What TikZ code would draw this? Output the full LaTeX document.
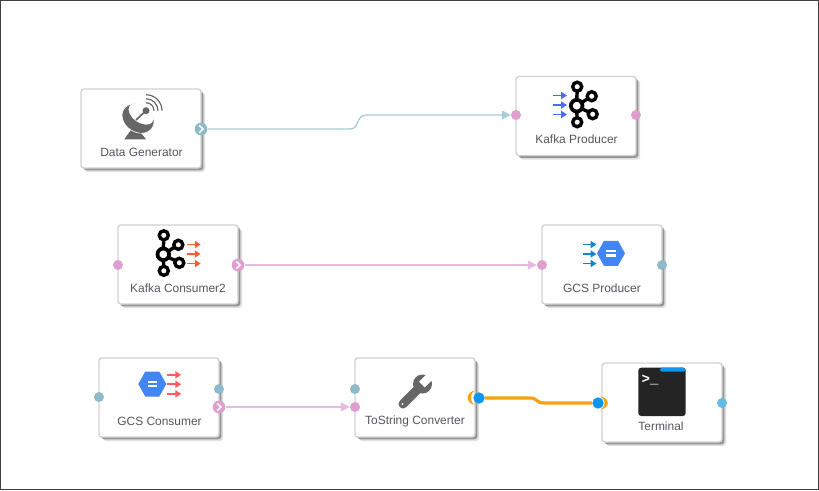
\documentclass[tikz,border=0pt]{standalone}
\usepackage{fontspec}
\setmainfont{Liberation Sans}
\newfontfamily\termfont{Liberation Mono}
\usetikzlibrary{arrows.meta,shadows,calc}

\definecolor{boxline}{HTML}{D2D2D2}
\definecolor{labelgray}{HTML}{56565E}
\definecolor{icongray}{HTML}{666666}
\definecolor{portpink}{HTML}{DD9FD0}
\definecolor{portblue}{HTML}{8FBACA}
\definecolor{linepink}{HTML}{E5BBDF}
\definecolor{lineblue}{HTML}{A9CDDA}
\definecolor{lineorange}{HTML}{F8A010}
\definecolor{dotblue}{HTML}{0E95EC}
\definecolor{skyblue}{HTML}{62BDE9}
\definecolor{gcsblue}{HTML}{4285F4}

\tikzset{
    my box/.style = {
        draw=boxline,
        line width=1.2pt,
        fill=white,
        rounded corners=2.5pt,
        minimum width=3.6cm,
        minimum height=2.37cm,
        drop shadow={shadow xshift=0.12cm, shadow yshift=-0.12cm, fill=black!50, opacity=0.25},
        drop shadow={shadow xshift=0.07cm, shadow yshift=-0.07cm, fill=black!65, opacity=0.55}},
    my label/.style = {
        font=\fontsize{10.2}{12}\selectfont,
        text=labelgray,
        inner sep=0pt},
    my port/.style = {
        circle,
        inner sep=0pt,
        minimum size=0.3cm},
    my chevron/.style = {
        my port,
        minimum size=0.38cm},
    my link/.style = {
        line width=1.1pt,
        -{Triangle[length=7.5pt,width=7.5pt]}},
    my arrow/.style = {
        line width=1.4pt,
        -{Triangle[length=5pt,width=6pt]}},
    my crescent/.style = {
        fill=lineorange},
    kafka mark/.pic = {
        \draw[line width=3.2pt] (0,0) circle (5.8);
        \draw[line width=2.9pt]
            (0.5,-19) circle (4.5) (0.5,16.5) circle (4.5)
            (15,-9.5) circle (4.5) (16,8.5) circle (4.5)
            (0.5,-15) -- (0,-6) (0.5,12.5) -- (0,6)
            (11.5,-7.5) -- (5,-3) (12.5,6.5) -- (5,3);
    },
    arrow row/.pic = {
        \foreach \rowy in {-9.5,0,9.5}
            \draw[my arrow] (-7,\rowy) -- (7,\rowy);
    },
    gcs mark/.pic = {
        \fill[gcsblue] (-14,0) -- (-7,-12.5) -- (7,-12.5) -- (14,0) -- (7,12.5) -- (-7,12.5) -- cycle;
        \fill[white] (-4.8,-3.4) rectangle (4.8,-1);
        \fill[white] (-4.8,1) rectangle (4.8,3.4);
    }
}

\newcommand{\chevronat}[1]{
    \draw[white, line width=1.3pt] ($(#1)+(-1.8,-3.6)$) -- ($(#1)+(2,0)$) -- ($(#1)+(-1.8,3.6)$);
}

\begin{document}
\begin{tikzpicture}[x=0.03cm, y=-0.03cm]
    \useasboundingbox (0,0) rectangle (819,490);
    \fill[white] (0,0) rectangle (819,490);
    \draw[black!75, line width=0.9pt] (0.5,0.5) rectangle (818.5,489.5);

    % boxes
    \node[my box] (generator) at (141,128.5) {};
    \node[my box] (producer) at (576,116) {};
    \node[my box] (consumer) at (178,264.5) {};
    \node[my box] (gcsproducer) at (602,264.5) {};
    \node[my box] (gcsconsumer) at (159,397.5) {};
    \node[my box] (converter) at (415,397.5) {};
    \node[my box] (terminal) at (662,402.5) {};

    % labels
    \node[my label] (generatorlabel) at (141.5,152) {Data Generator};
    \node[my label] (producerlabel) at (576.5,139) {Kafka Producer};
    \node[my label] (consumerlabel) at (178,288) {Kafka Consumer2};
    \node[my label] (gcsproducerlabel) at (602,288) {GCS Producer};
    \node[my label] (gcsconsumerlabel) at (159.5,421) {GCS Consumer};
    \node[my label] (converterlabel) at (415,421) {ToString Converter};
    \node[my label] (terminallabel) at (661,426) {Terminal};

    % ports
    \node[my chevron, fill=portblue] (generatorout) at (201,129) {};
    \node[my port, fill=portpink] (producerin) at (516,115) {};
    \node[my port, fill=portpink] (producerout) at (636,115) {};
    \node[my port, fill=portpink] (consumerin) at (118,265) {};
    \node[my chevron, fill=portpink] (consumerout) at (238,265) {};
    \node[my port, fill=portpink] (gcsproducerin) at (542,265) {};
    \node[my port, fill=portblue] (gcsproducerout) at (662,265) {};
    \node[my port, fill=portblue] (gcsconsumerin) at (99,397) {};
    \node[my port, fill=portblue] (gcsconsumerlog) at (219,389) {};
    \node[my chevron, fill=portpink] (gcsconsumerout) at (219,407) {};
    \node[my port, fill=portblue] (converterlog) at (355,389) {};
    \node[my port, fill=portpink] (converterin) at (355,407) {};
    \node[my port, fill=skyblue] (terminalout) at (722,403) {};
    \chevronat{generatorout}
    \chevronat{consumerout}
    \chevronat{gcsconsumerout}

    % links
    \draw[my link, lineblue] (generatorout) -- (350,129)
        .. controls (360,129) and (355,115) .. (367,115) -- (producerin);
    \draw[my link, linepink] (consumerout) -- (gcsproducerin);
    \draw[my link, linepink] (gcsconsumerout) -- (converterin);

    % selected link
    \fill[my crescent] (476,390.5) arc[start angle=-90, end angle=-270, x radius=8.3, y radius=7.2]
        arc[start angle=-270, end angle=-90, x radius=5, y radius=7.2] -- cycle;
    \fill[my crescent] (599.5,396.5) arc[start angle=-90, end angle=90, x radius=8.3, y radius=6.5]
        arc[start angle=90, end angle=-90, x radius=5, y radius=6.5] -- cycle;
    \node[my port, fill=dotblue, minimum size=0.34cm] (converterout) at (479,398) {};
    \node[my port, fill=dotblue, minimum size=0.34cm] (terminalin) at (598,403) {};
    \draw[lineorange, line width=2.7pt] (converterout) -- (530,398)
        .. controls (538,398) and (535,403) .. (545,403) -- (terminalin);

    % icons
    \fill[icongray] (124.3,139.3) -- (133,127) -- (138,129) -- (146,139.3) -- cycle;
    \fill[icongray, draw=white, line width=0.5pt] (138,118.5) ellipse [x radius=17, y radius=13.5, rotate=-35];
    \fill[white] (141,114) ellipse [x radius=14, y radius=8.5, rotate=-35];
    \draw[icongray, line width=1.4pt] (136,120) -- (146,110.7);
    \fill[icongray] (146,110.7) circle (3.5);
    \draw[icongray, line width=1pt]
        (146,102.7) arc[start angle=-90, end angle=0, radius=8]
        (146,98.7) arc[start angle=-90, end angle=0, radius=12]
        (146,94.7) arc[start angle=-90, end angle=0, radius=16];

    \path pic at (576.7,105.7) {kafka mark};
    \path pic[color={rgb,255:red,74;green,108;blue,247}] at (560,105) {arrow row};
    \path pic at (163.3,254.3) {kafka mark};
    \path pic[color={rgb,255:red,255;green,90;blue,54}] at (193.7,254) {arrow row};

    \path pic at (611,253.3) {gcs mark};
    \path pic[color={rgb,255:red,15;green,136;blue,200}] at (589.5,254) {arrow row};
    \path pic at (152.3,384) {gcs mark};
    \path pic[color={rgb,255:red,255;green,90;blue,95}] at (174.2,384.3) {arrow row};

    \draw[icongray, line width=7.7pt, line cap=round] (403,404) -- (417,390);
    \fill[icongray] (422.5,384) circle (9.5);
    \fill[white] (424.8,387.3) -- (419.2,381.7) -- (429.8,371.1) -- (435.4,376.7) -- cycle;
    \fill[white] (402.3,404) circle (1);

    \fill[black!86, rounded corners=2.5pt] (638.3,367.7) rectangle (685.7,416);
    \fill[dotblue, rounded corners=1.5pt] (660,367.7) rectangle (685.7,371.7);
    \node[text=white, inner sep=0pt, font=\termfont\bfseries\fontsize{12}{12}\selectfont] (prompt) at (650,380) {>\_};
\end{tikzpicture}
\end{document}
